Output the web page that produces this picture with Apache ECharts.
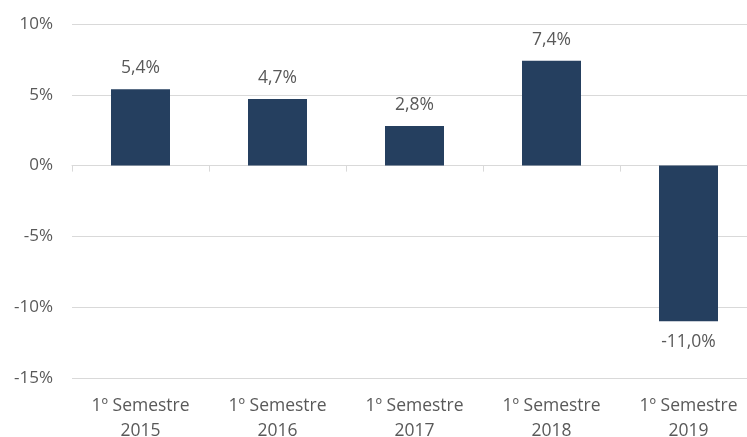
<!DOCTYPE html>
<html>
<head>
<meta charset="utf-8">
<script src="https://cdn.jsdelivr.net/npm/echarts@6/dist/echarts.min.js"></script>
<style>
* { margin: 0; padding: 0; }
body { background: #fff; }
#main { width: 747px; height: 437px; }
</style>
</head>
<body>
<div id="main"></div>
<script>
var categories = ['1º Semestre\n2015', '1º Semestre\n2016', '1º Semestre\n2017', '1º Semestre\n2018', '1º Semestre\n2019'];
var values = [5.4, 4.7, 2.8, 7.4, -11.0];

var font = 'Open Sans';
var textColor = '#595959';

var chart = echarts.init(document.getElementById('main'));
chart.setOption({
  animation: false,
  textStyle: { fontFamily: font },
  grid: { left: 72, right: -10, top: 24, bottom: 59, outerBoundsMode: 'none', containLabel: false },
  xAxis: [{
    type: 'category',
    data: categories,
    axisLine: { onZero: true, lineStyle: { color: '#d9d9d9' } },
    axisTick: { show: true, length: 6, lineStyle: { color: '#d9d9d9' } },
    axisLabel: { show: false }
  }, {
    // category labels sit at the bottom of the plot, not at the zero line
    type: 'category',
    data: categories,
    position: 'bottom',
    axisLine: { show: false },
    axisTick: { show: false },
    axisLabel: { color: textColor, fontSize: 17.5, fontFamily: font, lineHeight: 25, margin: 16 }
  }],
  yAxis: {
    type: 'value',
    min: -15,
    max: 10,
    interval: 5,
    axisLine: { show: false },
    axisTick: { show: false },
    splitLine: { lineStyle: { color: '#d9d9d9', width: 1 } },
    axisLabel: {
      color: textColor,
      fontSize: 17,
      fontFamily: font,
      margin: 19,
      formatter: function (v) { return v + '%'; }
    }
  },
  series: [{
    type: 'bar',
    data: values,
    barWidth: 59,
    itemStyle: { color: '#253f5f' },
    label: {
      show: true,
      position: 'outside',
      distance: 12,
      color: textColor,
      fontSize: 17.5,
      fontFamily: font,
      formatter: function (p) { return p.value.toFixed(1).replace('.', ',') + '%'; }
    }
  }]
});
</script>
</body>
</html>
